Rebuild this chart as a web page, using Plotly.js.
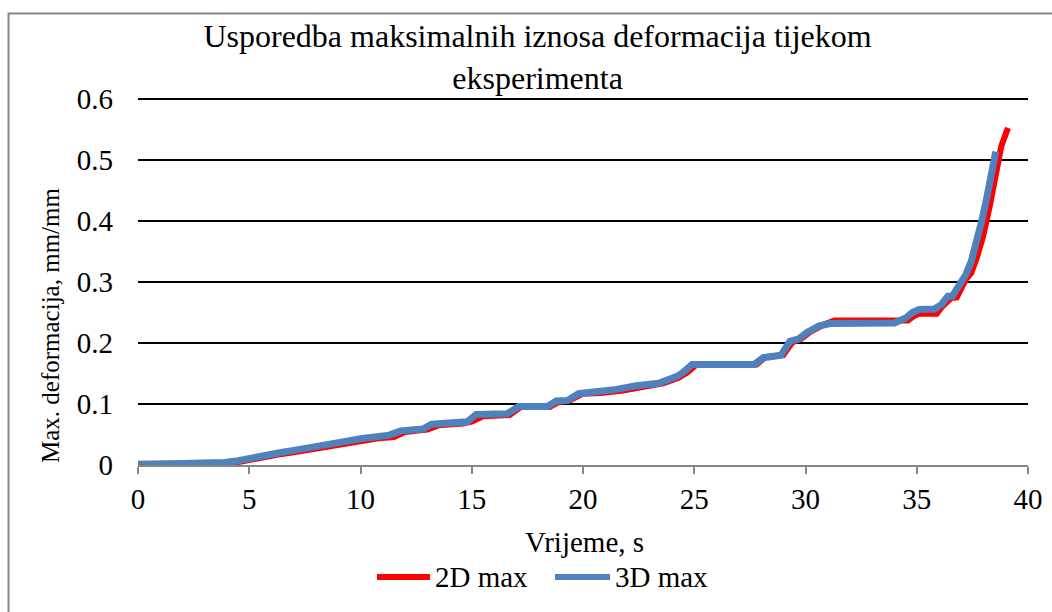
<!DOCTYPE html>
<html>
<head>
<meta charset="utf-8">
<script src="https://cdn.plot.ly/plotly-3.0.1.min.js"></script>
<style>html,body{margin:0;padding:0;background:#fff;}#chart{width:1052px;height:612px;}</style>
</head>
<body>
<div id="chart"></div>
<script>
// Data
const time2D = [0, 3.0, 4.0, 4.7, 5.2, 5.8, 6.3, 7.0, 7.6, 8.2, 8.8, 9.4, 10.2, 10.8, 11.5, 12.0, 13.0, 13.5, 14.6, 15.0, 15.5, 16.7, 17.2, 18.5, 18.9, 19.4, 20.0, 20.8, 21.8, 22.7, 23.6, 24.3, 24.7, 25.1, 27.8, 28.2, 29.0, 29.4, 29.8, 30.2, 30.8, 31.3, 34.6, 34.85, 35.1, 35.9, 36.1, 36.55, 36.8, 37.2, 37.45, 37.7, 37.98, 38.28, 38.58, 38.8, 39.1];
const max2D  = [0.002, 0.002, 0.002, 0.006, 0.010, 0.013, 0.017, 0.021, 0.025, 0.028, 0.033, 0.036, 0.041, 0.044, 0.046, 0.054, 0.058, 0.065, 0.068, 0.071, 0.080, 0.082, 0.095, 0.095, 0.103, 0.106, 0.117, 0.118, 0.122, 0.128, 0.134, 0.143, 0.152, 0.165, 0.165, 0.177, 0.180, 0.201, 0.207, 0.218, 0.230, 0.237, 0.237, 0.244, 0.248, 0.248, 0.258, 0.274, 0.275, 0.304, 0.315, 0.340, 0.375, 0.424, 0.479, 0.523, 0.553];

const time3D = [0, 1.5, 3.0, 3.9, 4.5, 5.0, 5.5, 5.9, 6.5, 7.0, 7.4, 8.0, 8.6, 9.2, 10.0, 10.5, 11.0, 11.3, 11.8, 12.8, 13.2, 14.5, 14.8, 15.2, 16.6, 17.1, 18.4, 18.8, 19.3, 19.8, 20.6, 21.5, 22.4, 23.4, 24.2, 24.5, 24.9, 27.7, 28.1, 28.9, 29.3, 29.7, 30.05, 30.6, 31.1, 34.0, 34.5, 34.8, 35.1, 35.8, 36.1, 36.4, 36.6, 36.9, 37.2, 37.45, 37.7, 37.9, 38.13, 38.35, 38.55];
const max3D  = [0.001, 0.002, 0.003, 0.004, 0.007, 0.011, 0.014, 0.017, 0.021, 0.024, 0.027, 0.030, 0.035, 0.038, 0.043, 0.046, 0.047, 0.049, 0.056, 0.059, 0.067, 0.068, 0.071, 0.083, 0.084, 0.096, 0.096, 0.105, 0.106, 0.117, 0.119, 0.124, 0.130, 0.134, 0.145, 0.152, 0.165, 0.165, 0.176, 0.180, 0.203, 0.207, 0.217, 0.228, 0.232, 0.233, 0.241, 0.250, 0.255, 0.256, 0.263, 0.277, 0.277, 0.296, 0.312, 0.334, 0.364, 0.397, 0.435, 0.476, 0.514];

const seriesNames = ['2D max', '3D max'];
const xTicks = [0, 5, 10, 15, 20, 25, 30, 35, 40];
const yTicks = [0, 0.1, 0.2, 0.3, 0.4, 0.5, 0.6];
const yTickLabels = ['0', '0.1', '0.2', '0.3', '0.4', '0.5', '0.6'];
const chartTitle = 'Usporedba maksimalnih iznosa deformacija tijekom<br>eksperimenta';
const xTitle = 'Vrijeme, s';
const yTitle = 'Max. deformacija, mm/mm';

const FONT = 'Liberation Serif, Times New Roman, serif';
const RED = '#FF0000';
const BLUE = '#4F81BD';

const traces = [
  {x: time2D, y: max2D, name: seriesNames[0], type: 'scatter', mode: 'lines',
   line: {color: RED, width: 6}, showlegend: false, hoverinfo: 'skip'},
  {x: time3D, y: max3D, name: seriesNames[1], type: 'scatter', mode: 'lines',
   line: {color: BLUE, width: 7}, showlegend: false, hoverinfo: 'skip'}
];

// paper-coordinate helpers (plot area spans x 138..1028 px, y 98..465 px)
const L = 138, R = 1028, T = 98, B = 465;
const px = v => (v - L) / (R - L);
const py = v => (B - v) / (B - T);

const layout = {
  width: 1052, height: 612,
  margin: {l: 138, r: 24, t: 98, b: 147, pad: 0},
  paper_bgcolor: '#ffffff', plot_bgcolor: '#ffffff',
  font: {family: FONT, color: '#000000', size: 29},
  title: {text: chartTitle, font: {family: FONT, size: 32, color: '#000'},
          xref: 'container', yref: 'container', x: 0.511, y: 1 - 47/612,
          xanchor: 'center', yanchor: 'middle'},
  xaxis: {range: [0, 40], tickvals: xTicks, ticktext: xTicks.map(String),
          showgrid: false, zeroline: false, showline: true,
          linecolor: '#868686', linewidth: 2,
          ticks: 'outside', ticklen: 7, tickwidth: 2, tickcolor: '#868686',
          tickfont: {family: FONT, size: 29, color: '#000'}, fixedrange: true},
  yaxis: {range: [0, 0.602], tickvals: yTicks, ticktext: yTickLabels,
          showgrid: true, gridcolor: '#000000', gridwidth: 2,
          zeroline: false, showline: false, ticks: '', ticklabelstandoff: 24,
          tickfont: {family: FONT, size: 29, color: '#000'}, fixedrange: true},
  shapes: [
    {type: 'rect', xref: 'paper', yref: 'paper',
     x0: px(8.5), x1: px(1070), y0: py(640), y1: py(13.5),
     line: {color: '#868686', width: 2}, fillcolor: 'rgba(0,0,0,0)', layer: 'below'},
    {type: 'line', xref: 'paper', yref: 'paper', x0: px(377), x1: px(430), y0: py(577), y1: py(577),
     line: {color: RED, width: 6}},
    {type: 'line', xref: 'paper', yref: 'paper', x0: px(555), x1: px(610), y0: py(577), y1: py(577),
     line: {color: BLUE, width: 6}}
  ],
  annotations: [
    {text: xTitle, xref: 'paper', yref: 'paper', x: px(584), y: py(542),
     xanchor: 'center', yanchor: 'middle', showarrow: false, font: {family: FONT, size: 29}},
    {text: yTitle, xref: 'paper', yref: 'paper', x: px(50), y: py(326), textangle: -90,
     xanchor: 'center', yanchor: 'middle', showarrow: false, font: {family: FONT, size: 25}},
    {text: seriesNames[0], xref: 'paper', yref: 'paper', x: px(433), y: py(577),
     xanchor: 'left', yanchor: 'middle', showarrow: false, font: {family: FONT, size: 29}},
    {text: seriesNames[1], xref: 'paper', yref: 'paper', x: px(613), y: py(577),
     xanchor: 'left', yanchor: 'middle', showarrow: false, font: {family: FONT, size: 29}}
  ]
};

Plotly.newPlot('chart', traces, layout, {staticPlot: true, displayModeBar: false});
</script>
</body>
</html>
